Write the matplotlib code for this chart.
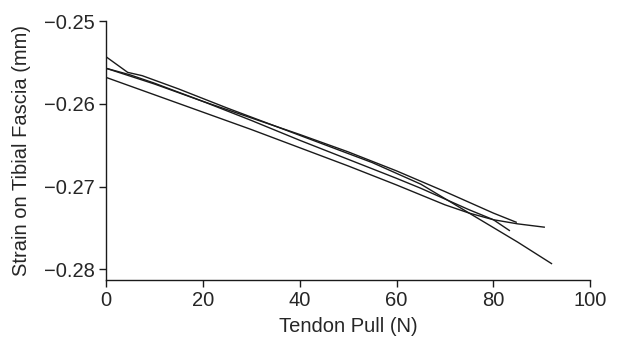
import matplotlib
matplotlib.use('Agg')
import matplotlib.pyplot as plt

# tendon pull (N) vs strain (mm), four trials
x1 = [0, 4.5, 7.5, 15, 25, 35, 45, 55, 65, 75, 85, 92]
y1 = [-0.2543, -0.2562, -0.2566, -0.2582, -0.2605, -0.2627, -0.2649, -0.2671,
      -0.2697, -0.2732, -0.2767, -0.2793]

x2 = [0, 10, 20, 30, 40, 50, 60, 65, 70, 75, 80, 85, 90.5]
y2 = [-0.2568, -0.2589, -0.2610, -0.2631, -0.2653, -0.2675, -0.2698, -0.2710,
      -0.2722, -0.2732, -0.2740, -0.2745, -0.2749]

x3 = [0, 5, 10, 20, 30, 40, 50, 60, 65, 70, 75, 80, 83.3]
y3 = [-0.2557, -0.2565, -0.2575, -0.2597, -0.2620, -0.2644, -0.2667, -0.2690,
      -0.2702, -0.2715, -0.2728, -0.2740, -0.2753]

x4 = [0, 10, 20, 30, 40, 50, 60, 70, 80, 84.7]
y4 = [-0.2557, -0.2576, -0.2597, -0.2617, -0.2637, -0.2658, -0.2681, -0.2706,
      -0.2732, -0.2743]

xticks = [0, 20, 40, 60, 80, 100]
yticks = [-0.28, -0.27, -0.26, -0.25]

plt.rcParams['font.family'] = ['Liberation Sans', 'DejaVu Sans']
txt = '#262626'

fig = plt.figure(figsize=(6.34, 3.45), dpi=100)
ax = fig.add_axes([0.167, 0.188, 0.764, 0.751])

for xs, ys in [(x1, y1), (x2, y2), (x3, y3), (x4, y4)]:
    ax.plot(xs, ys, color='#1a1a1a', lw=1.0)

ax.set_xlim(0, 100)
ax.set_ylim(-0.2813, -0.25)
ax.set_xticks(xticks)
ax.set_yticks(yticks)
ax.set_yticklabels([f'{t:.2f}'.replace('-', '\u2212') for t in yticks])
ax.spines['top'].set_visible(False)
ax.spines['right'].set_visible(False)
for s in ['left', 'bottom']:
    ax.spines[s].set_linewidth(1.0)
    ax.spines[s].set_color('#1a1a1a')
ax.tick_params(direction='out', length=5, width=1.0, labelsize=14.5, pad=3,
               colors='#1a1a1a', labelcolor=txt)
ax.set_xlabel('Tendon Pull (N)', fontsize=14.5, labelpad=5, color=txt)
ax.set_ylabel('Strain on Tibial Fascia (mm)', fontsize=14.5, labelpad=9,
              color=txt)

fig.savefig('out.png', dpi=100)
